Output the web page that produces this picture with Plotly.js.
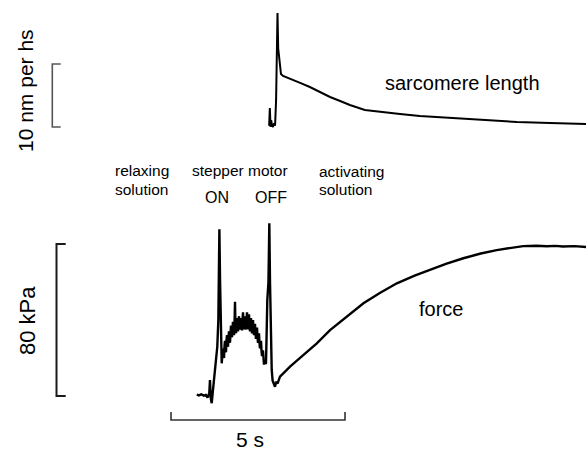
<!DOCTYPE html>
<html>
<head>
<meta charset="utf-8">
<script src="https://cdn.plot.ly/plotly-3.0.1.min.js"></script>
<style>
  html, body { margin: 0; padding: 0; background: #ffffff; }
  #chart { width: 586px; height: 453px; }
</style>
</head>
<body>
<div id="chart"></div>
<script>
// Sarcomere length trace (time in s, length change in nm per half-sarcomere)
const slTime = [7.82, 7.84, 7.86, 7.88, 7.90, 7.93, 7.96, 7.99, 8.02, 8.06, 8.08, 8.10, 8.13, 8.16, 8.22,
                8.42, 8.71, 8.99, 9.28, 9.57, 9.86, 10.14, 10.57, 11.01, 11.58, 12.15, 13.02, 13.88,
                14.94, 15.89, 16.93];
const slNm   = [0.2, 3.0, 0.0, 1.1, 0.3, 0.0, 0.6, 0.2, 4.3, 18.1, 12.5, 11.6, 10.6, 8.4, 8.1,
                7.6, 7.0, 6.35, 5.56, 4.76, 4.13, 3.49, 2.7, 2.38, 2.06, 1.75, 1.43, 1.11,
                0.79, 0.63, 0.48];

// Force trace (time in s, force in kPa)
const forceTime = [5.74, 5.80, 5.87, 5.94, 6.00, 6.05, 6.10, 6.12, 6.14, 6.17, 6.20, 6.26, 6.30, 6.33,
                   6.36, 6.375, 6.39, 6.41, 6.44, 6.457,
                   6.465, 6.480, 6.494, 6.508, 6.523, 6.537, 6.551, 6.566, 6.580, 6.594, 6.609, 6.623,
                   6.638, 6.652, 6.666, 6.681, 6.695, 6.710, 6.724, 6.738, 6.752, 6.767, 6.781, 6.796,
                   6.810, 6.825, 6.839, 6.853, 6.868, 6.882, 6.896, 6.911, 6.925, 6.940, 6.954, 6.968,
                   6.982, 6.997, 7.011, 7.026, 7.040, 7.055, 7.069, 7.083, 7.097, 7.112, 7.126, 7.141,
                   7.155, 7.170, 7.184, 7.198, 7.212, 7.227, 7.241, 7.256, 7.270, 7.284, 7.298, 7.313,
                   7.327, 7.342, 7.356, 7.370, 7.385, 7.400, 7.414, 7.428, 7.442, 7.457, 7.471, 7.486,
                   7.500, 7.514, 7.528, 7.543, 7.557, 7.572, 7.586, 7.600, 7.615, 7.629, 7.643, 7.658,
                   7.672, 7.686, 7.701, 7.715, 7.730,
                   7.75, 7.767, 7.80, 7.825, 7.845, 7.865, 7.894, 7.92, 7.95, 7.988, 8.02, 8.06, 8.132,
                   8.25, 8.42, 8.80, 9.19, 9.57, 9.85, 10.14, 10.53, 11.00, 11.49, 12.00, 12.44, 12.90,
                   13.40, 13.90, 14.36, 14.75, 15.12, 15.50, 15.80, 16.05, 16.26, 16.60, 16.93];
const forceKPa  = [0.8, 0.3, 0.9, 0.2, 0.6, -0.8, 1.5, 8.4, -1.0, -3.8, 2.0, 12.1, 19.0, 25.9,
                   40.0, 70.0, 87.7, 60.0, 40.0, 17.2,
                   19, 23, 25, 21, 20, 26, 29, 24, 23, 29, 32, 27,
                   26, 31, 34, 30, 28, 33, 37, 32, 31, 36, 39, 34,
                   32, 38, 49.6, 36, 33, 38, 41, 36, 34, 39, 42, 37,
                   35, 39, 41, 37, 34.5, 40, 44, 38, 35, 39, 42, 37,
                   35, 40, 44, 38, 35, 39, 43, 38, 34, 38, 41, 36,
                   33, 37, 40, 35, 32, 36, 38, 33, 30, 34, 36, 31,
                   28, 31, 33, 28, 25, 28, 29, 24, 21, 23, 24, 20,
                   16.5, 18, 18, 17, 17.4,
                   35, 50.5, 60, 90.9, 60, 40.0, 13.7, 8, 6, 4.9, 7.5, 6.5, 10.2,
                   12.5, 15.5, 21.5, 27.7, 34.7, 38.8, 43.5, 48.8, 54.2, 59.3, 63.3, 66.3, 69.6,
                   72.5, 75.0, 76.8, 78.0, 78.9, 79.1, 78.8, 79.0, 78.7, 78.9, 78.4];

// Scale bars (data units)
const timeBar = [5, 10];     // s
const forceBar = [0, 80];    // kPa
const slBar = [0, 10];       // nm per hs

const FONT = 'Liberation Sans, Arial, sans-serif';
const W = 586, H = 453;
const px = v => v / W;          // horizontal pixel -> paper
const py = v => 1 - v / H;      // vertical pixel -> paper

const traces = [
  {
    x: forceTime, y: forceKPa, type: 'scatter', mode: 'lines',
    line: {color: '#000000', width: 2.4}, xaxis: 'x', yaxis: 'y', hoverinfo: 'skip'
  },
  {
    x: slTime, y: slNm, type: 'scatter', mode: 'lines',
    line: {color: '#000000', width: 2}, xaxis: 'x', yaxis: 'y2', hoverinfo: 'skip'
  }
];

const bracket = (xPaper, tickPaper, yref, lo, hi, color, width) => ({
  type: 'path', xref: 'paper', yref: yref,
  path: `M ${tickPaper},${hi} L ${xPaper},${hi} L ${xPaper},${lo} L ${tickPaper},${lo}`,
  line: {color: color, width: width}
});

const shapes = [
  bracket(px(56.5), px(65.7), 'y', forceBar[0], forceBar[1], '#1a1a1a', 2),
  bracket(px(52.3), px(60.7), 'y2', slBar[0], slBar[1], '#555555', 1.6),
  {
    type: 'path', xref: 'x', yref: 'paper',
    path: `M ${timeBar[0]},${py(412)} L ${timeBar[0]},${py(420)} L ${timeBar[1]},${py(420)} L ${timeBar[1]},${py(412)}`,
    line: {color: '#333333', width: 1.6}
  }
];

const label = (text, x, y, size, extra) => Object.assign({
  text: text, xref: 'paper', yref: 'paper', x: px(x), y: py(y),
  xanchor: 'center', yanchor: 'middle', showarrow: false,
  font: {family: FONT, size: size, color: '#000000'}
}, extra || {});

const annotations = [
  label('10 nm per hs', 25, 91, 21, {textangle: -90}),
  label('80 kPa', 27, 321, 22, {textangle: -90}),
  label('sarcomere length', 462.5, 83, 20),
  label('relaxing', 113, 171, 15.5, {xanchor: 'left'}),
  label('solution', 113, 189, 15.5, {xanchor: 'left'}),
  label('stepper motor', 240, 171, 15.5),
  label('ON', 216.5, 197, 16),
  label('OFF', 270.5, 197, 16),
  label('activating', 317, 172, 15.5, {xanchor: 'left'}),
  label('solution', 317, 190, 15.5, {xanchor: 'left'}),
  label('force', 441, 309, 20),
  label('5 s', 250, 439, 21)
];

const x0 = 0.086, xScale = 34.8;             // px per second
const fScale = 1.9, fZeroPx = 396;           // px per kPa
const sScale = 6.3, sZeroPx = 127;           // px per nm

const layout = {
  width: W, height: H,
  margin: {l: 0, r: 0, t: 0, b: 0, pad: 0},
  paper_bgcolor: '#ffffff', plot_bgcolor: '#ffffff',
  showlegend: false,
  xaxis: {range: [x0, x0 + W / xScale], visible: false, fixedrange: true},
  yaxis: {range: [(fZeroPx - H) / fScale, fZeroPx / fScale], visible: false, fixedrange: true},
  yaxis2: {range: [(sZeroPx - H) / sScale, sZeroPx / sScale], visible: false, overlaying: 'y', fixedrange: true},
  shapes: shapes,
  annotations: annotations
};

Plotly.newPlot('chart', traces, layout, {staticPlot: true, displayModeBar: false});
</script>
</body>
</html>
